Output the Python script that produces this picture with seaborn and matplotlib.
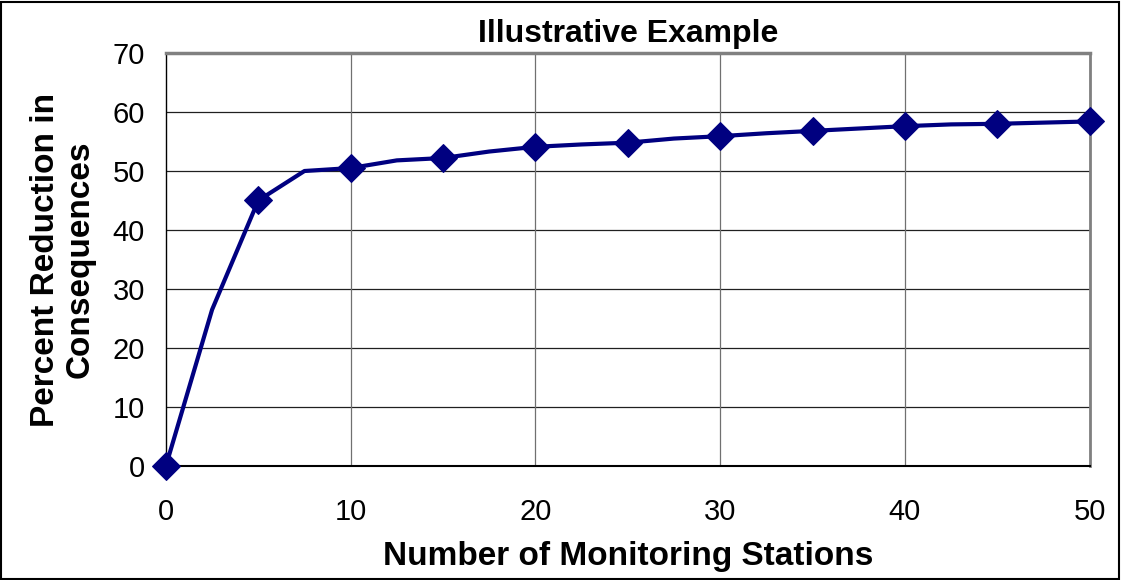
import matplotlib
matplotlib.use("Agg")
import matplotlib.pyplot as plt
import seaborn as sns
from matplotlib.patches import Rectangle

# smoothed curve points (every 2.5 stations) and marked points (every 5)
line_x = [0, 2.5, 5, 7.5, 10, 12.5, 15, 17.5, 20, 22.5, 25,
          27.5, 30, 32.5, 35, 37.5, 40, 42.5, 45, 47.5, 50]
line_y = [0, 26.5, 45, 50, 50.5, 51.8, 52.2, 53.3, 54.1, 54.5, 54.8,
          55.5, 55.9, 56.4, 56.8, 57.2, 57.6, 57.9, 58.0, 58.2, 58.4]
mark_x = [0, 5, 10, 15, 20, 25, 30, 35, 40, 45, 50]
mark_y = [0, 45, 50.5, 52.2, 54.1, 54.8, 55.9, 56.8, 57.6, 58.0, 58.4]

NAVY = "#000080"

sns.set_style("white")
plt.rcParams["font.family"] = ["Liberation Sans", "DejaVu Sans"]
plt.rcParams["text.color"] = "black"
plt.rcParams["axes.labelcolor"] = "black"
plt.rcParams["xtick.color"] = "black"
plt.rcParams["ytick.color"] = "black"

fig = plt.figure(figsize=(11.21, 5.8), dpi=100)
ax = fig.add_axes([0.148, 0.1966, 0.824, 0.712])

sns.lineplot(x=line_x, y=line_y, color=NAVY, linewidth=3, ax=ax, zorder=3)
sns.lineplot(x=mark_x, y=mark_y, color=NAVY, linestyle="", marker="D",
             markersize=14, markeredgecolor=NAVY, ax=ax, zorder=4,
             clip_on=False)

ax.set_xlim(0, 50)
ax.set_ylim(0, 70)
ax.set_xticks(range(0, 51, 10))
ax.set_yticks(range(0, 71, 10))
ax.tick_params(axis="both", labelsize=21, direction="out", length=6,
               width=1, color="black")
ax.tick_params(axis="y", pad=9)
ax.tick_params(axis="x", pad=17)

for y in range(10, 71, 10):
    ax.axhline(y, color="#202020", linewidth=0.9, zorder=1)
for x in range(10, 51, 10):
    ax.axvline(x, color="#707070", linewidth=0.9, zorder=1)

ax.spines["top"].set_color("#808080")
ax.spines["top"].set_linewidth(2.5)
ax.spines["right"].set_color("#808080")
ax.spines["right"].set_linewidth(2)
ax.spines["left"].set_color("black")
ax.spines["left"].set_linewidth(1)
ax.spines["bottom"].set_color("black")
ax.spines["bottom"].set_linewidth(1.5)

ax.set_title("Illustrative Example", fontsize=23, fontweight="bold", pad=8)
ax.set_xlabel("Number of Monitoring Stations", fontsize=24, fontweight="bold",
              labelpad=11)
ax.set_ylabel("Percent Reduction in\nConsequences", fontsize=24,
              fontweight="bold", labelpad=12, linespacing=1.15)

fig.add_artist(Rectangle((0.001, 0.001), 0.997, 0.996, transform=fig.transFigure,
                         fill=False, edgecolor="black", linewidth=1.5))

fig.savefig("out.png", dpi=100)
